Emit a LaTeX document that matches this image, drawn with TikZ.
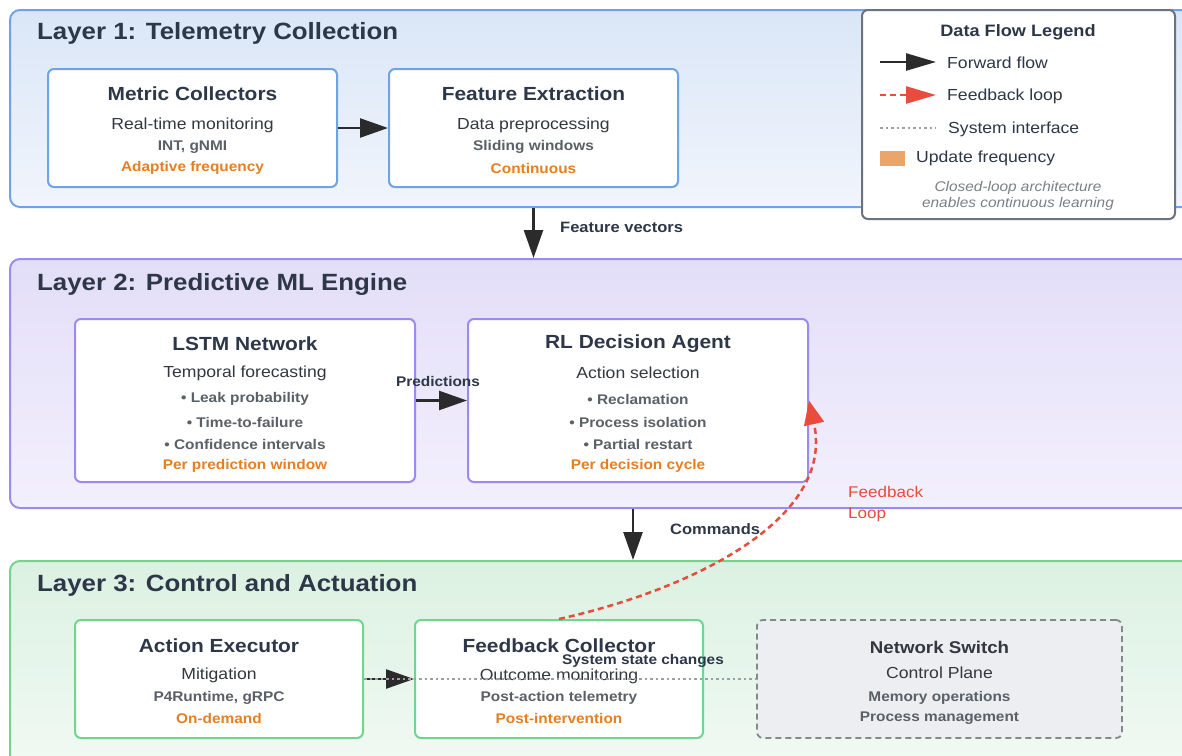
\documentclass[tikz,border=0pt]{standalone}
\usepackage{fontspec}
\setmainfont{Liberation Sans}[FakeStretch=1.1]
\usetikzlibrary{arrows.meta,calc}
\definecolor{txtdark}{HTML}{2D3748}
\definecolor{txtsub}{HTML}{333840}
\definecolor{txtgray}{HTML}{5A6068}
\definecolor{orng}{HTML}{E67E22}
\definecolor{redc}{HTML}{E74C3C}
\definecolor{blueS}{HTML}{6FA3E8}
\definecolor{blueT}{HTML}{DAE6F7}
\definecolor{blueB}{HTML}{F1F5FC}
\definecolor{purpS}{HTML}{9B8AF0}
\definecolor{purpT}{HTML}{E3DEF8}
\definecolor{purpB}{HTML}{F3F0FD}
\definecolor{grnS}{HTML}{72D48E}
\definecolor{grnT}{HTML}{DBF1E2}
\definecolor{grnB}{HTML}{F2FAF4}
\definecolor{swfill}{HTML}{ECEEF1}
\definecolor{dotgray}{HTML}{9AA0A6}
\definecolor{legS}{HTML}{6B7280}
\definecolor{sq}{HTML}{EDA467}
\definecolor{arrowk}{HTML}{2B2B2B}
\tikzset{
  layerbox/.style={rectangle, rounded corners=10, line width=2pt, inner sep=0, minimum width=1182},
  cardbox/.style={rectangle, rounded corners=6, line width=2pt, fill=white, inner sep=0},
  layertitle/.style={anchor=west, inner sep=0, text=txtdark, font=\fontsize{23.5}{27}\selectfont\bfseries},
  ctitle/.style={inner sep=0, text=txtdark, font=\fontsize{19}{22}\selectfont\bfseries},
  csub/.style={inner sep=0, text=txtsub, font=\fontsize{16}{19}\selectfont},
  cdet/.style={inner sep=0, text=txtgray, font=\fontsize{14}{17}\selectfont\bfseries},
  corng/.style={inner sep=0, text=orng, font=\fontsize{14}{17}\selectfont\bfseries},
  clabel/.style={inner sep=0, text=txtdark, font=\fontsize{15}{18}\selectfont\bfseries},
  legtext/.style={anchor=west, inner sep=0, text=txtdark, font=\fontsize{16}{19}\selectfont},
  fwd/.style={draw=arrowk, line width=2.5pt, -{Triangle[length=28pt,width=19pt]}},
  fwdsmall/.style={draw=arrowk, line width=2.5pt, -{Triangle[length=30pt,width=17pt]}},
  fbk/.style={draw=redc, line width=2.5pt, dash pattern=on 6pt off 4pt, -{Triangle[length=24pt,width=20pt]}},
  sysif/.style={draw=dotgray, line width=1.6pt, dash pattern=on 2.5pt off 3pt},
}
\begin{document}
\begin{tikzpicture}[x=1pt,y=-1pt]
\useasboundingbox (0,0) rectangle (1182,755);
\fill[white] (0,0) rectangle (1182,755);

% ---------- Layers ----------
\node[layerbox, draw=blueS, top color=blueT, bottom color=blueB, minimum height=197] (l1) at (601,108.5) {};
\node[layerbox, draw=purpS, top color=purpT, bottom color=purpB, minimum height=249] (l2) at (601,383.5) {};
\node[layerbox, draw=grnS, top color=grnT, bottom color=grnB, minimum height=214] (l3) at (601,668) {};

\node[layertitle] (t1) at (37,33.5) {Layer 1: Telemetry Collection};
\node[layertitle] (t2) at (37,284.5) {Layer 2: Predictive ML Engine};
\node[layertitle] (t3) at (37,585.5) {Layer 3: Control and Actuation};

% ---------- Layer 1 cards ----------
\node[cardbox, draw=blueS, minimum width=289, minimum height=118] (mc) at (192.5,128) {};
\node[cardbox, draw=blueS, minimum width=289, minimum height=118] (fe) at (533.5,128) {};
\node[ctitle] (mct) at (192.5,94) {Metric Collectors};
\node[csub]   (mcs) at (192.5,125) {Real-time monitoring};
\node[cdet]   (mcd) at (192.5,147) {INT, gNMI};
\node[corng]  (mco) at (192.5,168) {Adaptive frequency};
\node[ctitle] (fet) at (533.5,94) {Feature Extraction};
\node[csub]   (fes) at (533.5,125) {Data preprocessing};
\node[cdet]   (fed) at (533.5,147) {Sliding windows};
\node[corng]  (feo) at (533.5,168) {Continuous};

% ---------- Layer 2 cards ----------
\node[cardbox, draw=purpS, minimum width=340, minimum height=163] (lstm) at (245,400.5) {};
\node[cardbox, draw=purpS, minimum width=340, minimum height=163] (rl) at (638,400.5) {};
\node[ctitle] (lt) at (245,344) {LSTM Network};
\node[csub]   (ls) at (245,373) {Temporal forecasting};
\node[cdet]   (lb1) at (245,399) {• Leak probability};
\node[cdet]   (lb2) at (245,422) {• Time-to-failure};
\node[cdet]   (lb3) at (245,444) {• Confidence intervals};
\node[corng]  (lo) at (245,466) {Per prediction window};
\node[ctitle] (rt) at (638,344) {RL Decision Agent};
\node[csub]   (rs) at (638,373) {Action selection};
\node[cdet]   (rb1) at (638,399) {• Reclamation};
\node[cdet]   (rb2) at (638,422) {• Process isolation};
\node[cdet]   (rb3) at (638,444) {• Partial restart};
\node[corng]  (ro) at (638,466) {Per decision cycle};

% ---------- Layer 3 cards ----------
\node[cardbox, draw=grnS, minimum width=288, minimum height=118] (ae) at (219,679) {};
\node[cardbox, draw=grnS, minimum width=288, minimum height=118] (fc) at (559,679) {};
\node[rectangle, rounded corners=6, draw=dotgray!85!black, fill=swfill, line width=1.8pt, dash pattern=on 6pt off 4pt, inner sep=0, minimum width=365, minimum height=118] (ns) at (939.5,679) {};
\node[ctitle] (aet) at (219,646) {Action Executor};
\node[csub]   (aes) at (219,675) {Mitigation};
\node[cdet]   (aed) at (219,698) {P4Runtime, gRPC};
\node[corng]  (aeo) at (219,718) {On-demand};
\node[ctitle] (fct) at (559,646) {Feedback Collector};
\node[csub]   (fcs) at (559,676) {Outcome monitoring};
\node[cdet]   (fcd) at (559,698) {Post-action telemetry};
\node[corng]  (fco) at (559,718) {Post-intervention};
\node[ctitle, text=txtsub, font=\fontsize{17}{20}\selectfont\bfseries] (nst) at (939.5,647) {Network Switch};
\node[csub]   (nss) at (939.5,673) {Control Plane};
\node[cdet]   (nsd1) at (939.5,698) {Memory operations};
\node[cdet]   (nsd2) at (939.5,718) {Process management};

% ---------- Connectors ----------
\draw[fwd] (mc.east) -- (fe.west);
\draw[fwd] (fe.south |- l1.south) -- (fe.south |- l2.north);
\node[clabel, anchor=west] (fvl) at (560,227) {Feature vectors};
\draw[fwd] (lstm.east) -- (rl.west);
\node[clabel, font=\fontsize{14}{17}\selectfont\bfseries] (prl) at (438,381) {Predictions};
\draw[fwd] ($(rl.south |- l2.south)+(-5,0)$) -- ($(rl.south |- l3.north)+(-5,0)$);
\node[clabel, anchor=west] (cml) at (670,529) {Commands};
\draw[fwd] (ae.east) -- (fc.west);
\draw[sysif] (ae.east) -- (ns.west);
\node[clabel, font=\fontsize{14}{17}\selectfont\bfseries] (ssl) at (643,661) {System state changes};
\draw[fbk] (fc.north) .. controls (690,590) and (835,520) .. (rl.east);
\node[anchor=north west, inner sep=0, align=left, text=redc, font=\fontsize{15.5}{21}\selectfont] (fbl) at (848,486) {Feedback\\Loop};

% ---------- Legend ----------
\node[rectangle, rounded corners=6, draw=legS, line width=2pt, fill=white, inner sep=0, minimum width=313, minimum height=209] (leg) at (1018.5,114.5) {};
\node[inner sep=0, text=txtdark, font=\fontsize{16.5}{20}\selectfont\bfseries] (legt) at (1018,32) {Data Flow Legend};
\coordinate (a1) at (880,62); \coordinate (a2) at (936,62);
\draw[fwdsmall] (a1) -- (a2);
\node[legtext] (lg1) at (947,63) {Forward flow};
\coordinate (b1) at (880,95); \coordinate (b2) at (936,95);
\draw[draw=redc, line width=2.5pt, dash pattern=on 6pt off 4pt, -{Triangle[length=30pt,width=17pt]}] (b1) -- (b2);
\node[legtext] (lg2) at (947,96) {Feedback loop};
\coordinate (c1) at (880,128); \coordinate (c2) at (936,128);
\draw[sysif] (c1) -- (c2);
\node[legtext] (lg3) at (948,129) {System interface};
\node[rectangle, fill=sq, inner sep=0, minimum width=25, minimum height=15] (sqn) at (892.5,158) {};
\node[legtext] (lg4) at (916,158) {Update frequency};
\node[inner sep=0, text=txtgray!80, font=\fontsize{14}{17}\selectfont\itshape] (it1) at (1018,188) {Closed-loop architecture};
\node[inner sep=0, text=txtgray!80, font=\fontsize{14}{17}\selectfont\itshape] (it2) at (1018,204) {enables continuous learning};
\end{tikzpicture}
\end{document}
